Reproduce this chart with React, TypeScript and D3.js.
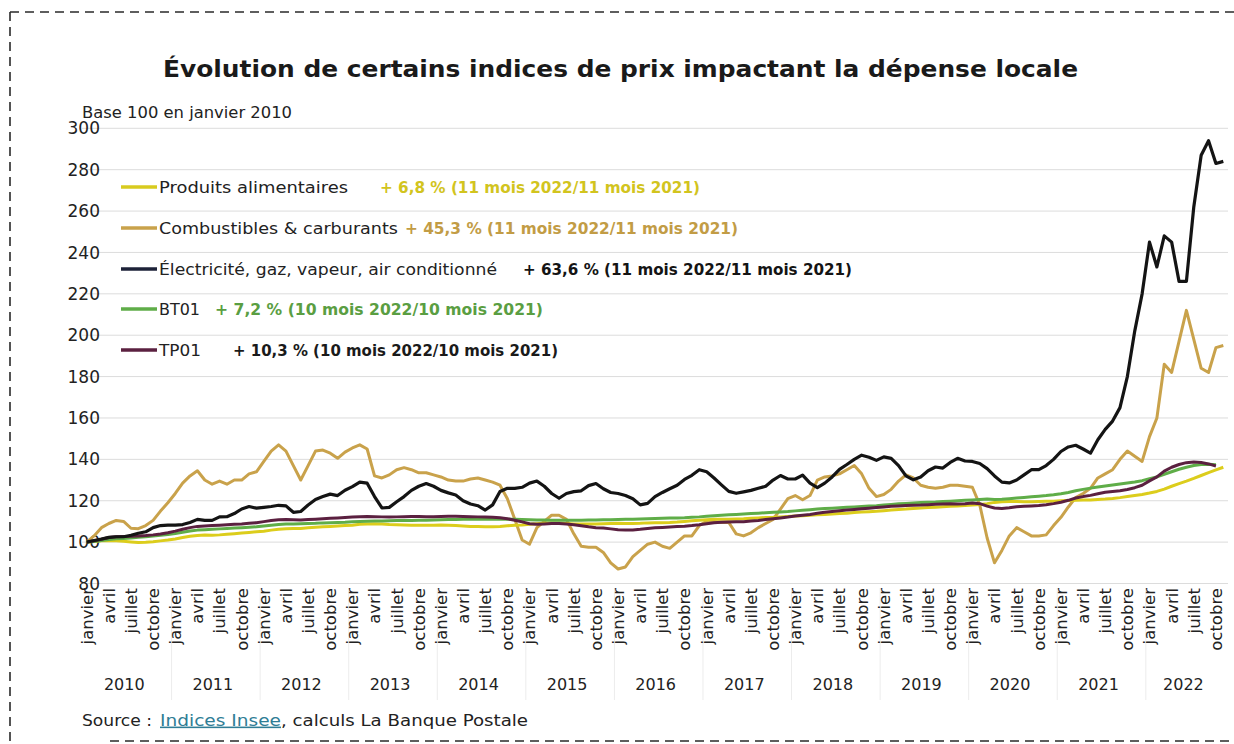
import React from "react";
import * as d3 from "d3";

// categories (one per month, janvier 2010 -> novembre 2022)
const years = [2010, 2011, 2012, 2013, 2014, 2015, 2016, 2017, 2018, 2019, 2020, 2021, 2022];
const monthNames = ["janvier", "février", "mars", "avril", "mai", "juin", "juillet", "août", "septembre", "octobre", "novembre", "décembre"];
const shownMonths = ["janvier", "avril", "juillet", "octobre"];
const yTicks = [80, 100, 120, 140, 160, 180, 200, 220, 240, 260, 280, 300];

const alimentaires = [
  100, 100.3, 100.6, 100.8, 100.6, 100.4, 100.1, 99.8, 99.9, 100.2, 100.6, 101.0,
  101.5, 102.2, 102.8, 103.2, 103.4, 103.3, 103.5, 103.8, 104.1, 104.4, 104.7, 105.0,
  105.3, 105.8, 106.2, 106.5, 106.6, 106.6, 106.9, 107.2, 107.4, 107.6, 107.8, 108.0,
  108.2, 108.6, 108.8, 108.9, 108.8, 108.5, 108.4, 108.3, 108.2, 108.1, 108.1, 108.2,
  108.3, 108.2, 108.0, 107.8, 107.6, 107.5, 107.4, 107.4, 107.6, 107.9, 108.1, 108.3,
  108.6, 108.9, 109.2, 109.3, 109.2, 109.0, 108.8, 108.7, 108.7, 108.8, 108.9, 109.0,
  109.1, 109.0, 109.0, 109.1, 109.3, 109.4, 109.4, 109.5, 109.7, 110.0, 110.3, 110.6,
  110.8, 111.0, 111.1, 111.1, 111.2, 111.3, 111.5, 111.7, 111.9, 112.0, 112.2, 112.4,
  112.6, 112.8, 113.0, 113.2, 113.4, 113.6, 113.8, 114.0, 114.3, 114.5, 114.7, 114.9,
  115.2, 115.5, 115.8, 116.0, 116.3, 116.5, 116.7, 116.9, 117.1, 117.3, 117.5, 117.7,
  117.9, 118.2, 118.6, 119.2, 119.5, 119.6, 119.6, 119.5, 119.5, 119.6, 119.7, 119.8,
  120.0, 120.1, 120.2, 120.3, 120.4, 120.6, 120.8, 121.1, 121.5, 122.0, 122.5, 123.0,
  123.7, 124.5, 125.6, 127.0, 128.3, 129.5, 130.8, 132.2, 133.6, 134.9, 136.2,
];

const combustibles = [
  100, 103, 107, 109, 110.5, 110, 106.7, 106.5, 108, 110.5, 115, 119,
  123.5, 128.5, 132, 134.5, 130, 128, 129.5, 128, 130, 130, 133, 134,
  139, 144, 147, 144, 137, 130, 137, 144, 144.5, 143, 140.5, 143.5,
  145.5, 147, 145, 132, 131, 132.5, 135, 136, 135, 133.5, 133.5, 132.5,
  131.5, 130, 129.5, 129.5, 130.5, 131, 130, 129, 127.5, 121, 111, 101,
  99, 107, 110, 113, 113, 111, 104, 98, 97.5, 97.5, 95, 90,
  87, 88, 93, 96, 99, 100, 98, 97, 100, 103, 103, 108,
  110, 110, 109.5, 109.5, 104, 103, 104.5, 107, 109, 111, 116, 121,
  122.5, 120.5, 122.5, 130, 131.5, 132, 133, 135, 137, 133, 126, 122,
  123, 125.5, 129.5, 132.5, 131, 127.5, 126.5, 126, 126.5, 127.5, 127.5, 127,
  126.5, 118, 102, 90, 96, 103, 107, 105, 103, 103, 103.5, 108,
  112, 117, 121.5, 123.5, 126, 131, 133, 135, 140, 144, 141.5, 139,
  151, 160, 186, 182, 197, 212, 198, 184, 182, 194, 195,
];

const electricite = [
  100, 100.8, 101.5, 102.3, 102.6, 102.6, 103.3, 104.3, 105, 107, 108, 108.2,
  108.2, 108.5, 109.5, 111, 110.5, 110.5, 112.2, 112.3, 113.8, 116, 117.2, 116.4,
  116.8, 117.2, 117.8, 117.5, 114.4, 114.8, 117.9, 120.6, 122, 123.2, 122.5, 125.1,
  126.8, 129, 128.5, 122, 116.5, 116.8, 119.5, 122, 125, 127, 128.3, 127,
  125, 123.8, 122.8, 120, 118.4, 117.6, 115.5, 118, 124.5, 126, 126, 126.5,
  128.5, 129.5, 127, 123.5, 121.2, 123.5, 124.4, 124.8, 127.3, 128.3, 125.8, 124,
  123.5, 122.5, 121, 118, 118.7, 122, 124, 125.8, 127.5, 130.3, 132.3, 135,
  134, 131, 127.7, 124.5, 123.6, 124.3, 125, 126, 127, 130, 132.2, 130.5,
  130.5, 132.4, 128.5, 126.3, 128.5, 131.5, 135.2, 137.5, 140, 142, 141, 139.5,
  141.2, 140.5, 137, 132, 130.1, 131.5, 134.5, 136.3, 135.8, 138.5, 140.5, 139.2,
  139, 138, 135.5, 132, 129, 128.6, 130, 132.5, 135, 135, 137, 140,
  143.8, 146, 146.8, 145, 143, 149.5, 154.5, 158.5, 165, 180, 202, 220,
  245, 233, 248, 245, 226, 226, 262, 287, 294, 283, 284,
];

const bt01 = [
  100, 100.3, 100.8, 101.3, 101.6, 101.8, 102.0, 102.3, 102.6, 103.0, 103.3, 103.7,
  104.2, 104.8, 105.4, 105.8, 106.0, 106.2, 106.4, 106.6, 106.8, 107.0, 107.2, 107.4,
  107.8, 108.2, 108.5, 108.7, 108.8, 108.9, 109.0, 109.1, 109.3, 109.4, 109.5, 109.6,
  109.8, 110.0, 110.1, 110.2, 110.2, 110.3, 110.4, 110.5, 110.5, 110.6, 110.6, 110.7,
  110.8, 110.9, 110.9, 111.0, 111.0, 111.0, 111.1, 111.1, 111.1, 111.0, 111.0, 110.9,
  110.8, 110.7, 110.7, 110.6, 110.6, 110.6, 110.6, 110.6, 110.7, 110.7, 110.8, 110.8,
  110.9, 111.0, 111.1, 111.2, 111.3, 111.4, 111.5, 111.6, 111.7, 111.8, 112.0, 112.2,
  112.5, 112.8, 113.0, 113.2, 113.4, 113.6, 113.8, 114.0, 114.2, 114.4, 114.6, 114.8,
  115.1, 115.4, 115.7, 116.0, 116.2, 116.4, 116.6, 116.8, 117.0, 117.2, 117.4, 117.6,
  117.9, 118.2, 118.5, 118.7, 118.9, 119.1, 119.3, 119.4, 119.6, 119.8, 120.0, 120.2,
  120.4, 120.6, 120.8, 120.6, 120.7, 121.0, 121.3, 121.6, 121.9, 122.2, 122.5, 122.9,
  123.4, 124.0, 124.8, 125.5, 126.1, 126.6, 127.1, 127.6, 128.1, 128.6, 129.1, 129.7,
  130.6, 131.5, 132.8, 134.0, 135.2, 136.2, 137.0, 137.5, 137.6, 137.4,
];

const tp01 = [
  100, 100.6, 101.4, 102.2, 102.6, 102.7, 102.8, 103.0, 103.2, 103.5, 103.9, 104.5,
  105.3, 106.2, 107.0, 107.6, 107.8, 108.0, 108.2, 108.4, 108.6, 108.8, 109.1, 109.4,
  109.9, 110.4, 110.8, 110.9, 110.8, 110.7, 110.9, 111.1, 111.3, 111.5, 111.7, 111.9,
  112.1, 112.3, 112.4, 112.3, 112.2, 112.1, 112.2, 112.3, 112.4, 112.4, 112.3, 112.3,
  112.4, 112.5, 112.5, 112.4, 112.3, 112.2, 112.1, 112.0, 111.8, 111.3, 110.6, 109.8,
  108.9, 108.6, 108.8, 109.0, 109.0, 108.8, 108.4, 107.9, 107.4, 107.0, 106.8, 106.4,
  106.0, 105.8, 105.9, 106.2, 106.6, 106.9, 107.1, 107.3, 107.5, 107.7, 108.0, 108.4,
  108.9, 109.4, 109.6, 109.7, 109.8, 109.9, 110.2, 110.5, 110.9, 111.3, 111.7, 112.1,
  112.6, 113.0, 113.4, 113.9, 114.4, 114.8, 115.2, 115.5, 115.8, 116.1, 116.4, 116.7,
  117.0, 117.3, 117.5, 117.7, 117.8, 117.9, 118.1, 118.3, 118.4, 118.5, 118.4, 118.6,
  118.9, 118.6, 117.4, 116.5, 116.3, 116.6, 117.1, 117.3, 117.5, 117.7, 118.1, 118.6,
  119.3, 120.2, 121.3, 122.0, 122.6, 123.4, 124.1, 124.5, 124.8, 125.4, 126.3, 127.5,
  129.6, 131.5, 134.3, 136.2, 137.5, 138.4, 138.7, 138.5, 137.8, 136.8,
];

const seriesNames = [
  "Produits alimentaires",
  "Combustibles & carburants",
  "Électricité, gaz, vapeur, air conditionné",
  "BT01",
  "TP01",
];
const seriesNotes = [
  "+ 6,8 % (11 mois 2022/11 mois 2021)",
  "+ 45,3 % (11 mois 2022/11 mois 2021)",
  "+ 63,6 % (11 mois 2022/11 mois 2021)",
  "+ 7,2 % (10 mois 2022/10 mois 2021)",
  "+ 10,3 % (10 mois 2022/10 mois 2021)",
];

const FONT = "'DejaVu Sans', sans-serif";

const months = years
  .flatMap(yr => monthNames.map((m, k) => ({ year: yr, month: m, key: `${yr}-${k}` })))
  .slice(0, electricite.length);

const series = [
  { name: seriesNames[1], values: combustibles, color: "#c9a24b", note: seriesNotes[1], noteColor: "#c29c45", legendColor: "#c9a24b", width: 3 },
  { name: seriesNames[0], values: alimentaires, color: "#dccd1c", note: seriesNotes[0], noteColor: "#d2c41e", legendColor: "#d8cb1f", width: 3 },
  { name: seriesNames[3], values: bt01, color: "#5fad48", note: seriesNotes[3], noteColor: "#5a9e42", legendColor: "#5fad48", width: 3 },
  { name: seriesNames[4], values: tp01, color: "#5b2040", note: seriesNotes[4], noteColor: "#1a1a1a", legendColor: "#5b2040", width: 3 },
  { name: seriesNames[2], values: electricite, color: "#141414", note: seriesNotes[2], noteColor: "#141414", legendColor: "#1d2238", width: 3.2 },
];

// legend rows in the original order (text widths taken from the reference layout)
const legendRows = [
  { s: series[1], y: 187, nameLen: 189, noteX: 380, noteLen: 320 },
  { s: series[0], y: 228, nameLen: 239, noteX: 405, noteLen: 333 },
  { s: series[4], y: 269, nameLen: 338, noteX: 523, noteLen: 329 },
  { s: series[2], y: 309, nameLen: 41, noteX: 215, noteLen: 328 },
  { s: series[3], y: 350, nameLen: 42, noteX: 233, noteLen: 325 },
];

const App: React.FC = () => {
  const width = 1234;
  const height = 744;

  const x = d3
    .scaleBand<string>()
    .domain(months.map(d => d.key))
    .range([83, 1227])
    .padding(0);
  const bw = x.bandwidth();
  const cx = (i: number) => x(months[i].key)! + bw / 2;

  const y = d3.scaleLinear().domain([80, 300]).range([583.5, 128.3]);

  const line = d3
    .line<number>()
    .x((_, i) => cx(i))
    .y(d => y(d))
    .curve(d3.curveLinear);

  // tick labels every 3 months
  const tickMonths = months
    .map((d, i) => ({ ...d, i }))
    .filter(d => shownMonths.includes(d.month));

  // year groups
  const yearGroups = years.map(yr => {
    const idx = months.map((d, i) => (d.year === yr ? i : -1)).filter(i => i >= 0);
    const x0 = x(months[idx[0]].key)!;
    const x1 = x(months[idx[idx.length - 1]].key)! + bw;
    return { yr, x0, x1 };
  });

  return (
    <svg width={width} height={height} style={{ position: "absolute", left: 0, top: 0, background: "#fff" }}>
      <rect width={width} height={height} fill="#fff" />
      {/* dashed frame */}
      <line x1={10} x2={1234} y1={12} y2={12} stroke="#2a2a2a" strokeWidth={1.6} strokeDasharray="9 6" />
      <line x1={10} x2={10} y1={12} y2={744} stroke="#2a2a2a" strokeWidth={1.6} strokeDasharray="9 6" />
      <line x1={110} x2={1234} y1={741} y2={741} stroke="#2a2a2a" strokeWidth={1.6} strokeDasharray="9 6" />

      <text x={163} y={77} textLength={915} lengthAdjust="spacingAndGlyphs" fontFamily={FONT} fontWeight={700} fontSize={23} fill="#1a1a1a">
        Évolution de certains indices de prix impactant la dépense locale
      </text>
      <text x={82} y={118} textLength={210} lengthAdjust="spacingAndGlyphs" fontFamily={FONT} fontSize={15} fill="#222">
        Base 100 en janvier 2010
      </text>

      {/* grid + y labels */}
      {yTicks.map(t => (
        <g key={t}>
          <line x1={82} x2={1228} y1={y(t)} y2={y(t)} stroke="#dcdcdc" strokeWidth={1} />
          <text x={100} y={y(t)} dy="0.36em" textAnchor="end" fontFamily={FONT} fontSize={17} fill="#222">
            {t}
          </text>
        </g>
      ))}

      {/* year separators */}
      {yearGroups.slice(1).map(g => (
        <line key={g.yr} x1={g.x0} x2={g.x0} y1={588} y2={700} stroke="#ececec" strokeWidth={1} />
      ))}

      {/* month tick labels */}
      {tickMonths.map(d => (
        <text
          key={d.key}
          transform={`translate(${cx(d.i)},${588}) rotate(-90)`}
          dy="0.36em"
          textAnchor="end"
          fontFamily={FONT}
          fontSize={16.5}
          fill="#222"
        >
          {d.month}
        </text>
      ))}

      {/* year labels */}
      {yearGroups.map(g => (
        <text key={g.yr} x={(g.x0 + g.x1) / 2 - 3} y={684} dy="0.36em" textAnchor="middle" fontFamily={FONT} fontSize={16} fill="#222">
          {g.yr}
        </text>
      ))}

      {/* series */}
      {series.map(s => (
        <path key={s.name} d={line(s.values) || ""} fill="none" stroke={s.color} strokeWidth={s.width} strokeLinejoin="round" />
      ))}

      {/* legend */}
      {legendRows.map(({ s, y: ly, nameLen, noteX, noteLen }) => (
        <g key={s.name}>
          <line x1={121} x2={157} y1={ly} y2={ly} stroke={s.legendColor} strokeWidth={3.5} />
          <text x={159} y={ly} dy="0.36em" textLength={nameLen} lengthAdjust="spacingAndGlyphs" fontFamily={FONT} fontSize={15.5} fill="#222">
            {s.name}
          </text>
          <text x={noteX} y={ly} dy="0.36em" textLength={noteLen} lengthAdjust="spacingAndGlyphs" fontFamily={FONT} fontWeight={700} fontSize={15.5} fill={s.noteColor}>
            {s.note}
          </text>
        </g>
      ))}

      {/* source */}
      <text x={82} y={720} dy="0.36em" textLength={70} lengthAdjust="spacingAndGlyphs" fontFamily={FONT} fontSize={15.5} fill="#222">
        Source :
      </text>
      <text x={160} y={720} dy="0.36em" textLength={121} lengthAdjust="spacingAndGlyphs" fontFamily={FONT} fontSize={15.5} fill="#2f7d95" textDecoration="underline">
        Indices Insee
      </text>
      <text x={281} y={720} dy="0.36em" textLength={247} lengthAdjust="spacingAndGlyphs" fontFamily={FONT} fontSize={15.5} fill="#222">
        , calculs La Banque Postale
      </text>
    </svg>
  );
};

export default App;
